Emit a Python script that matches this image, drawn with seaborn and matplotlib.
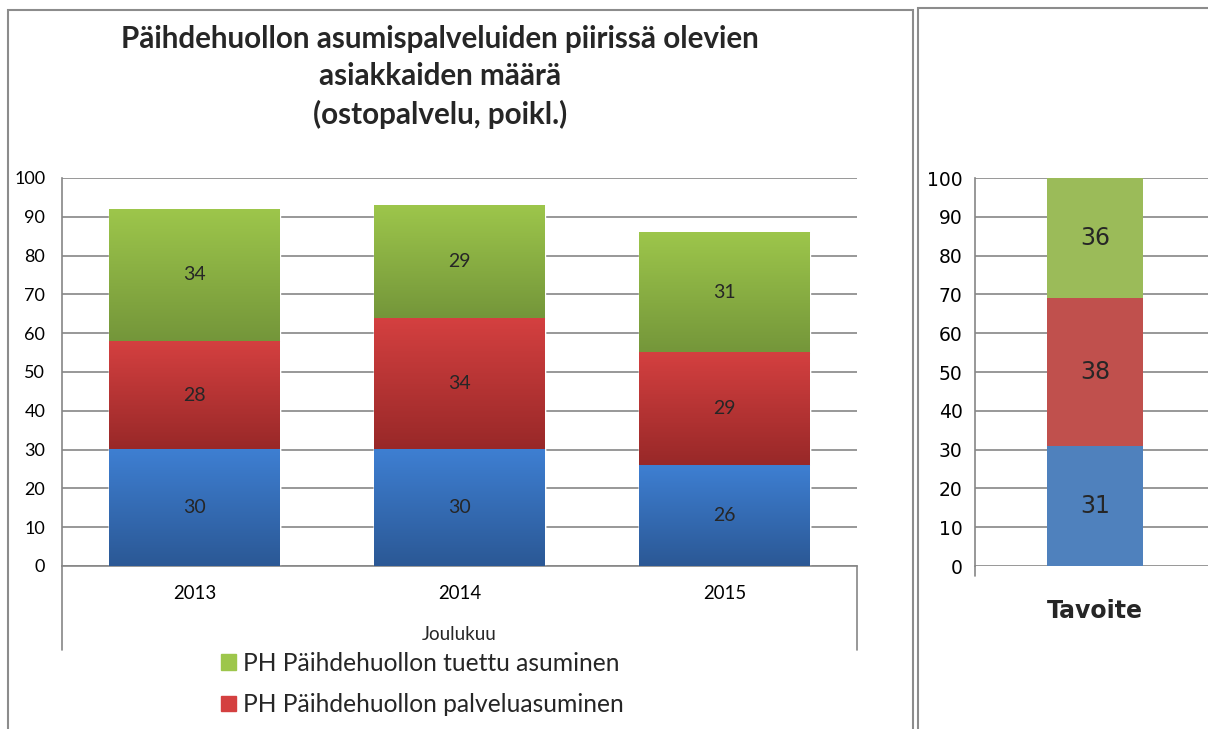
import matplotlib
matplotlib.use('Agg')
import matplotlib.pyplot as plt
from matplotlib.patches import Patch, Rectangle
import seaborn as sns
import numpy as np
import pandas as pd

# %%
years = ['2013', '2014', '2015']
ph_muu = [30, 30, 26]
ph_palvelu = [28, 34, 29]
ph_tuettu = [34, 29, 31]

target_cat = ['Tavoite']
target_muu = [31]
target_palvelu = [38]
target_tuettu = [36]

legend_labels = ['PH Päihdehuollon tuettu asuminen', 'PH Päihdehuollon palveluasuminen']
title = 'Päihdehuollon asumispalveluiden piirissä olevien\nasiakkaiden määrä\n(ostopalvelu, poikl.)'

# gradient colours (top, bottom) for the left chart
grad_green = ('#9dc64b', '#74963a')
grad_red = ('#d44040', '#982828')
grad_blue = ('#3e7fd2', '#2b5895')
flat_green = '#9bbb59'
flat_red = '#c0504d'
flat_blue = '#4f81bd'
grid_col = '#868686'

W, H = 1208, 729

# %%
sns.set_theme(style='white')
plt.rcParams['font.family'] = ['Lato', 'DejaVu Sans']

fig = plt.figure(figsize=(W / 100, H / 100), dpi=100)
ax = fig.add_axes([62 / W, 1 - 566 / H, 795 / W, 388 / H])
ax2 = fig.add_axes([975 / W, 1 - 566 / H, 233 / W, 388 / H])

# %% left chart: stacked by overlaying cumulative bars
df = pd.DataFrame({'vuosi': years, 'muu': ph_muu, 'palvelu': ph_palvelu, 'tuettu': ph_tuettu})
df['c1'] = df['muu']
df['c2'] = df['c1'] + df['palvelu']
df['c3'] = df['c2'] + df['tuettu']

layers = [('c3', 'tuettu', grad_green), ('c2', 'palvelu', grad_red), ('c1', 'muu', grad_blue)]
for col, _, grad in layers:
    sns.barplot(data=df, x='vuosi', y=col, color=grad[0], width=0.645,
                saturation=1, ax=ax, zorder=2, errorbar=None)

for k, (col, val_col, grad) in enumerate(layers):
    cont = ax.containers[k]
    c_top = np.array(matplotlib.colors.to_rgb(grad[0]))
    c_bot = np.array(matplotlib.colors.to_rgb(grad[1]))
    t = np.linspace(0, 1, 128)[:, None]
    img = (c_top * (1 - t) + c_bot * t)[:, None, :]
    for j, bar in enumerate(cont):
        top = bar.get_height()
        bottom = ax.containers[k + 1][j].get_height() if k + 1 < len(layers) else 0
        x0 = bar.get_x()
        ax.imshow(img, extent=(x0, x0 + bar.get_width(), bottom, top),
                  aspect='auto', origin='upper', zorder=3)
        ax.text(x0 + bar.get_width() / 2, (top + bottom) / 2, str(df[val_col][j]),
                ha='center', va='center', fontsize=14, zorder=4)

ax.set_xlim(-0.5, 2.5)
ax.set_ylim(0, 100)
ax.set_yticks(range(0, 101, 10))
ax.set_ylabel('')
ax.set_xlabel('')
ax.grid(axis='y', color=grid_col, lw=1.2, zorder=0)
ax.set_axisbelow(True)
for s in ['top', 'right']:
    ax.spines[s].set_visible(False)
for s in ['left', 'bottom']:
    ax.spines[s].set_color(grid_col)
    ax.spines[s].set_linewidth(1.2)
ax.tick_params(axis='y', length=0, pad=12, labelsize=13, colors='black')
ax.tick_params(axis='x', length=0, pad=14, labelsize=13.4, colors='black')
for xx in [0, 1]:
    ax.plot([xx, xx], [0, -84 / 388], transform=ax.transAxes, clip_on=False,
            color=grid_col, lw=1.2)
ax.text(0.5, -(635 - 566) / 388, 'Joulukuu', transform=ax.transAxes,
        ha='center', va='center', fontsize=13.5)

# %% right chart (target)
tdf = pd.DataFrame({'kohde': target_cat, 'muu': target_muu,
                    'palvelu': target_palvelu, 'tuettu': target_tuettu})
tdf['c1'] = tdf['muu']
tdf['c2'] = tdf['c1'] + tdf['palvelu']
tdf['c3'] = tdf['c2'] + tdf['tuettu']
tlayers = [('c3', 'tuettu', flat_green), ('c2', 'palvelu', flat_red), ('c1', 'muu', flat_blue)]
for col, _, color in tlayers:
    sns.barplot(data=tdf, x='kohde', y=col, color=color, width=0.8,
                saturation=1, ax=ax2, zorder=2, errorbar=None, linewidth=0)
for k, (col, val_col, _) in enumerate(tlayers):
    bar = ax2.containers[k][0]
    top = min(bar.get_height(), 100)
    bottom = ax2.containers[k + 1][0].get_height() if k + 1 < len(tlayers) else 0
    ax2.text(bar.get_x() + bar.get_width() / 2, (top + bottom) / 2, str(tdf[val_col][0]),
             ha='center', va='center', fontsize=17, family='DejaVu Sans', zorder=4)

ax2.set_xlim(-1.0, 0.942)
ax2.set_ylim(0, 100)
ax2.set_yticks(range(0, 101, 10))
ax2.set_xticks([])
ax2.set_xlabel('')
ax2.set_ylabel('')
ax2.grid(axis='y', color=grid_col, lw=1.2, zorder=0)
ax2.set_axisbelow(True)
for s in ['top', 'right', 'bottom']:
    ax2.spines[s].set_visible(False)
ax2.spines['left'].set_color(grid_col)
ax2.spines['left'].set_linewidth(1.2)
ax2.plot([0, 0], [0, -10 / 388], transform=ax2.transAxes, clip_on=False,
         color=grid_col, lw=1.2)
ax2.tick_params(axis='y', length=5, width=1.2, color=grid_col, pad=4,
                labelsize=13.5, labelcolor='black')
for lab in ax2.get_yticklabels():
    lab.set_family('DejaVu Sans')
fig.text(1095 / W, 1 - 611 / H, 'Tavoite', ha='center', va='center',
         fontsize=17, weight='bold', family='DejaVu Sans')

# %% title, legend, frames
fig.text(440 / W, 1 - 77 / H, title, ha='center', va='center', fontsize=21.3,
         weight='bold', linespacing=1.4)

handles = [Patch(color=grad_green[0]), Patch(color=grad_red[0])]
fig.legend(handles, legend_labels, loc='center left', bbox_to_anchor=(209 / W, 1 - 684 / H),
           frameon=False, fontsize=17.7, handlelength=0.6, handleheight=0.6,
           handletextpad=0.3, labelspacing=0.75, borderpad=0)

fig.add_artist(Rectangle((8 / W, -0.02), 905 / W, (H - 10) / H + 0.02, transform=fig.transFigure,
                         fill=False, edgecolor='#8c8c8c', lw=1.5))
fig.add_artist(Rectangle((918 / W, -0.02), 300 / W, (H - 8) / H + 0.02, transform=fig.transFigure,
                         fill=False, edgecolor='#8c8c8c', lw=1.5))

fig.savefig('out.png', dpi=100)
